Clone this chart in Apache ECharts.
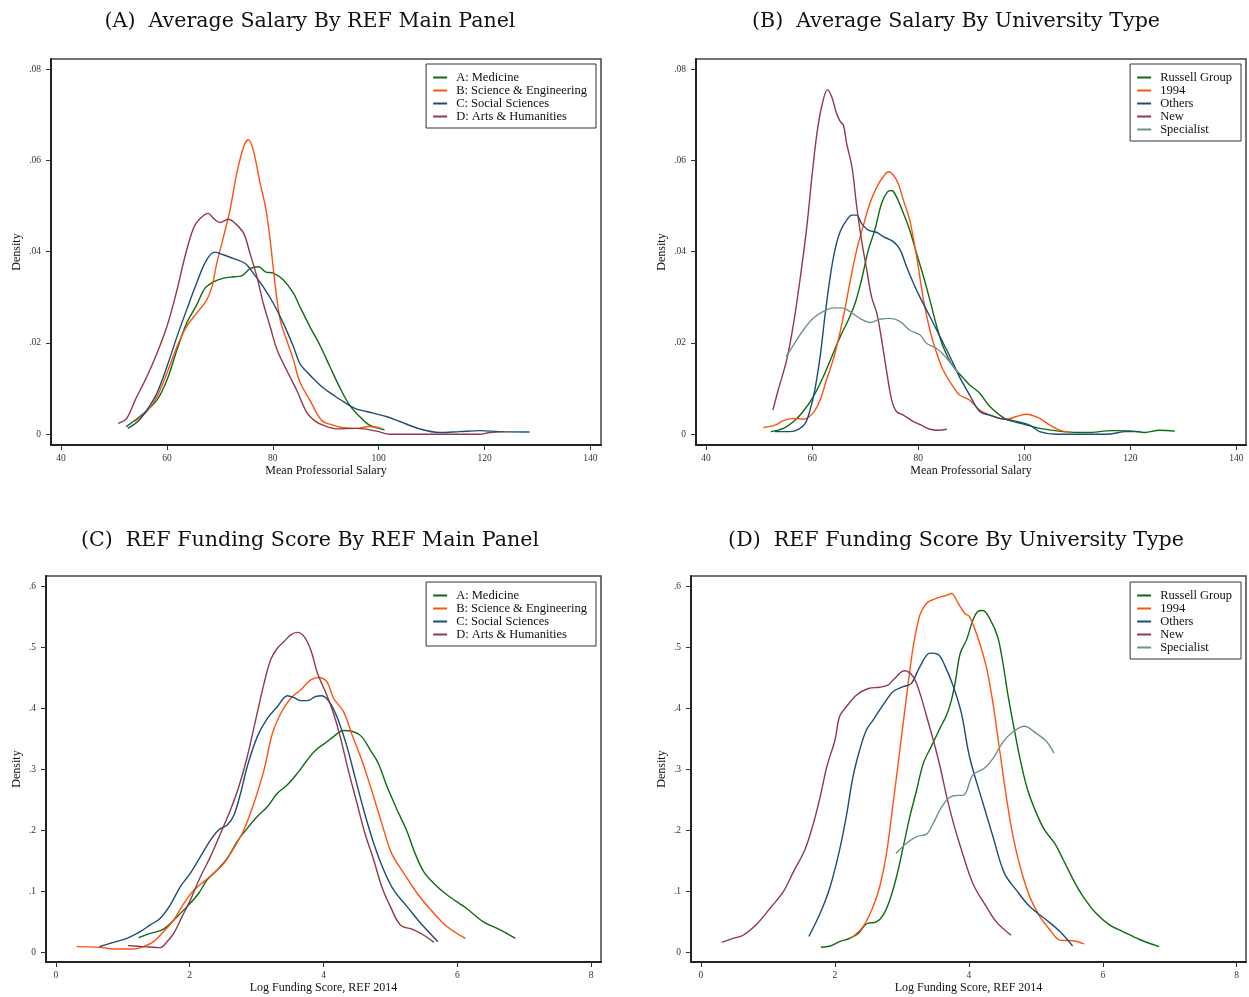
<!DOCTYPE html>
<html><head><meta charset="utf-8">
<script src="https://cdn.jsdelivr.net/npm/echarts@6/dist/echarts.min.js"></script>
<style>html,body{margin:0;padding:0;background:#fff}#c{width:1249px;height:997px}</style>
</head><body><div id="c"></div>
<script>
// ---------- Titles / labels ----------
const panelTitles = ['(A)  Average Salary By REF Main Panel', '(B)  Average Salary By University Type',
  '(C)  REF Funding Score By REF Main Panel', '(D)  REF Funding Score By University Type'];
const panelNames = ['A: Medicine', 'B: Science & Engineering', 'C: Social Sciences', 'D: Arts & Humanities'];
const uniTypes = ['Russell Group', '1994', 'Others', 'New', 'Specialist'];
const salaryTicks = [40, 60, 80, 100, 120, 140];
const salaryDensTicks = [0, 0.02, 0.04, 0.06, 0.08];
const fundTicks = [0, 2, 4, 6, 8];
const fundDensTicks = [0, 0.1, 0.2, 0.3, 0.4, 0.5, 0.6];

// ---------- (A) Salary by REF main panel : [salary, density] ----------
const A_med = [[52.3,.0017],[55,.004],[58.1,.0075],[60,.0119],[61.9,.0185],[63.7,.0243],[65.6,.0283],[67.2,.032],[68.8,.0334],[70.7,.0342],[72.6,.0345],[74.1,.0347],[75.7,.0363],[77.3,.0367],[78.6,.0356],[80.1,.0353],[82,.0338],[83.9,.0309],[85.1,.028],[87,.0236],[88.9,.0195],[90.8,.0148],[92.6,.0104],[94.5,.0064],[96.4,.0039],[98.3,.002],[101.1,.001]];
const A_sci = [[53.9,.0028],[56.2,.005],[58.1,.0082],[60,.0134],[61.9,.0192],[63.7,.0236],[65.6,.0265],[67.5,.0294],[68.5,.0323],[69.4,.0374],[70.7,.0433],[71.9,.0491],[73.2,.0572],[74.5,.063],[75.4,.0645],[76.3,.0623],[77.6,.055],[78.6,.0499],[79.5,.0426],[80.4,.0331],[81.4,.025],[82.6,.0207],[83.9,.0163],[85.1,.0115],[87,.0075],[89.2,.0031],[91.4,.002],[93,.0015],[95.8,.0013],[98.3,.0017],[100.5,.0013]];
const A_soc = [[52.6,.0013],[54.5,.0028],[56.2,.0053],[58.1,.009],[60,.0148],[61.9,.0214],[63.7,.0272],[65.6,.0331],[67.5,.0382],[69.1,.0399],[70.7,.0393],[72.6,.0385],[74.8,.0374],[76.3,.0353],[78.2,.0323],[80.1,.0287],[82,.0243],[83.9,.0192],[85.1,.0155],[86.4,.0137],[88.9,.0108],[91.4,.0086],[93.3,.0072],[95.5,.0057],[97.7,.005],[101.4,.0039],[104,.0028],[107.7,.0012],[111.5,.0004],[115.3,.0006],[119.1,.0008],[122.8,.0006],[128.5,.0005]];
const A_arts = [[50.8,.0024],[52.4,.0035],[54,.0075],[56.2,.0126],[58.1,.0177],[60,.0236],[61.9,.0316],[63.4,.0389],[65,.0451],[66.3,.0473],[67.8,.0484],[68.8,.0473],[70,.0464],[71.6,.0471],[72.9,.0462],[74.5,.044],[75.7,.0396],[77,.0345],[78.2,.0287],[79.5,.0236],[80.8,.0185],[82.6,.0141],[84.5,.0097],[86.4,.0048],[88,.0029],[89.5,.002],[92,.0012],[95.8,.0013],[99.6,.0007],[102.1,0],[119.1,0],[121,.0004],[123.8,.0006]];

// ---------- (B) Salary by university type ----------
const B_russell = [[52.2,.0006],[54.6,.0013],[56.5,.0028],[58.3,.005],[60.2,.0082],[62.1,.0126],[63.7,.017],[65.3,.0214],[66.8,.025],[68.1,.0287],[69.3,.0338],[70.6,.0404],[71.8,.0447],[73.1,.0506],[74.2,.0531],[75,.0534],[75.9,.052],[77.2,.0484],[78.4,.0447],[79.7,.0396],[81,.0345],[82.2,.0294],[83.5,.0236],[84.7,.0192],[86.6,.0148],[88.5,.0123],[89.7,.0108],[91.6,.009],[93.5,.0061],[96.6,.0033],[99.7,.0023],[102.9,.0013],[107.3,.0006],[111.7,.0004],[116.7,.0008],[120.5,.0007],[122.7,.0004],[125.5,.0009],[128.4,.0007]];
const B_1994 = [[50.8,.0015],[53,.002],[54.6,.003],[56.5,.0035],[58.3,.0033],[60.2,.0047],[61.5,.0075],[62.7,.0119],[64.3,.0177],[65.9,.0258],[67.1,.0331],[68.4,.0404],[69.6,.0455],[70.9,.0506],[72.2,.0542],[73.4,.0564],[74.4,.0575],[75.3,.0568],[76.2,.055],[77.2,.0513],[78.4,.0469],[79.7,.0389],[81,.0294],[82.2,.0228],[83.5,.0177],[84.7,.0141],[86.6,.0104],[87.8,.0086],[89.7,.0075],[91.6,.0053],[93.5,.0042],[96.6,.0033],[98.5,.0039],[100.4,.0044],[102.9,.0035],[104.8,.002],[106.7,.0009],[108.6,.0004]];
const B_others = [[53,.0006],[55.8,.0006],[57.4,.0011],[58.7,.0024],[59.6,.0053],[60.5,.0097],[61.5,.017],[62.4,.0258],[63.4,.0345],[64.3,.0404],[65.3,.0444],[66.5,.0469],[67.5,.048],[68.4,.048],[69.3,.0462],[70.6,.0447],[72.2,.0442],[73.4,.0433],[75.3,.0422],[76.6,.0404],[77.8,.0367],[79.1,.0331],[80.3,.0301],[82.2,.0258],[84.1,.0214],[86,.017],[87.9,.0123],[89.7,.0086],[91.6,.005],[93.5,.0042],[95.3,.0035],[97.9,.003],[101,.002],[102.9,.0006],[106,0],[115.5,0],[119.2,.0006],[121.8,.0006]];
const B_new = [[52.6,.0053],[53.6,.0097],[55.2,.0163],[56.5,.0243],[57.7,.0338],[59,.0455],[59.9,.0558],[60.9,.0659],[61.8,.0718],[62.9,.0755],[63.7,.0739],[64.6,.0703],[65.3,.0685],[65.9,.0677],[66.5,.0637],[67.5,.0586],[68.4,.0499],[69.3,.0426],[70.3,.036],[71.2,.0301],[72.2,.0265],[73.1,.0207],[74,.0141],[75,.0075],[75.9,.005],[77.2,.0042],[79.1,.0028],[80.6,.002],[82.2,.0011],[83.8,.0009],[85.4,.0011]];
const B_spec = [[55.1,.017],[56.5,.0196],[58.3,.0228],[60.2,.0254],[62.1,.0269],[64,.0277],[65.6,.0277],[67.1,.0269],[69,.0254],[70.9,.0245],[72.8,.0252],[74.7,.0254],[76.6,.0247],[78.4,.0228],[80.3,.0218],[81.6,.0199],[83.5,.0188],[85.4,.0166],[87.5,.0135]];

// ---------- (C) Log funding score by REF main panel : [log score, density] ----------
const C_med = [[1.235,.024],[1.41,.031],[1.61,.038],[1.81,.0585],[1.96,.075],[2.135,.097],[2.26,.119],[2.41,.135],[2.56,.154],[2.71,.182],[2.86,.2035],[3.01,.223],[3.16,.239],[3.31,.261],[3.46,.275],[3.61,.294],[3.76,.316],[3.885,.332],[4.02,.343],[4.15,.354],[4.3,.364],[4.45,.362],[4.57,.354],[4.7,.332],[4.82,.31],[4.95,.272],[5.1,.234],[5.25,.198],[5.37,.162],[5.5,.132],[5.65,.113],[5.85,.094],[6.14,.072],[6.39,.05],[6.64,.037],[6.87,.023]];
const C_sci = [[.31,.0093],[.66,.0082],[.86,.0055],[1.16,.0055],[1.31,.0093],[1.46,.0175],[1.61,.034],[1.76,.053],[1.91,.08],[2.06,.102],[2.21,.116],[2.36,.13],[2.51,.146],[2.66,.171],[2.81,.201],[2.96,.245],[3.11,.299],[3.235,.359],[3.36,.392],[3.51,.417],[3.66,.431],[3.81,.447],[3.925,.451],[4.05,.444],[4.15,.417],[4.3,.395],[4.42,.359],[4.57,.316],[4.72,.266],[4.87,.212],[5.02,.162],[5.2,.13],[5.4,.097],[5.65,.064],[5.85,.042],[6.12,.023]];
const C_soc = [[.65,.0093],[.81,.0148],[1.06,.023],[1.26,.034],[1.41,.045],[1.56,.056],[1.71,.078],[1.86,.108],[2.01,.13],[2.16,.157],[2.31,.184],[2.435,.201],[2.56,.209],[2.66,.225],[2.76,.261],[2.86,.305],[3.01,.354],[3.16,.384],[3.31,.403],[3.46,.421],[3.56,.418],[3.66,.413],[3.76,.413],[3.885,.42],[3.975,.421],[4.1,.409],[4.22,.381],[4.35,.338],[4.47,.288],[4.6,.234],[4.75,.179],[4.9,.135],[5.05,.102],[5.25,.075],[5.45,.048],[5.71,.0175]];
const C_arts = [[1.075,.011],[1.31,.0093],[1.56,.0077],[1.66,.0175],[1.76,.031],[1.885,.0585],[2.01,.086],[2.16,.124],[2.31,.157],[2.46,.195],[2.61,.234],[2.735,.272],[2.86,.321],[2.985,.381],[3.11,.441],[3.21,.48],[3.31,.499],[3.41,.51],[3.51,.521],[3.61,.525],[3.71,.518],[3.81,.496],[3.91,.458],[4.05,.422],[4.15,.392],[4.25,.354],[4.37,.299],[4.5,.245],[4.62,.195],[4.75,.152],[4.87,.108],[5.0,.075],[5.15,.045],[5.35,.037],[5.5,.028],[5.65,.0164]];

// ---------- (D) Log funding score by university type ----------
const D_russell = [[1.79,.0082],[1.93,.0104],[2.07,.0175],[2.22,.023],[2.35,.031],[2.47,.0465],[2.62,.05],[2.72,.061],[2.82,.086],[2.92,.124],[3.02,.173],[3.12,.223],[3.22,.266],[3.32,.31],[3.44,.338],[3.57,.368],[3.67,.39],[3.74,.414],[3.8,.445],[3.87,.49],[3.97,.514],[4.06,.545],[4.13,.559],[4.21,.561],[4.31,.548],[4.43,.518],[4.51,.474],[4.58,.425],[4.68,.365],[4.78,.31],[4.88,.266],[5.01,.228],[5.13,.201],[5.28,.179],[5.41,.152],[5.56,.119],[5.71,.091],[5.9,.064],[6.1,.045],[6.3,.034],[6.55,.021],[6.84,.0093]];
const D_1994 = [[2.25,.024],[2.42,.042],[2.57,.075],[2.67,.108],[2.77,.162],[2.87,.245],[2.97,.332],[3.07,.42],[3.17,.502],[3.27,.554],[3.37,.573],[3.47,.579],[3.57,.583],[3.67,.586],[3.74,.589],[3.84,.573],[3.94,.556],[4.01,.551],[4.13,.518],[4.26,.469],[4.36,.409],[4.46,.332],[4.56,.255],[4.66,.19],[4.78,.135],[4.91,.091],[5.06,.0585],[5.21,.037],[5.36,.02],[5.56,.019],[5.72,.0137]];
const D_others = [[1.61,.026],[1.78,.064],[1.93,.108],[2.07,.168],[2.17,.223],[2.27,.288],[2.37,.332],[2.47,.365],[2.57,.381],[2.72,.406],[2.87,.428],[3.02,.436],[3.14,.441],[3.27,.469],[3.42,.491],[3.54,.489],[3.64,.471],[3.77,.436],[3.89,.392],[4.01,.321],[4.21,.245],[4.36,.19],[4.53,.13],[4.71,.102],[4.91,.075],[5.16,.053],[5.36,.034],[5.55,.0104]];
const D_new = [[.31,.0164],[.48,.023],[.63,.028],[.83,.046],[1.03,.072],[1.23,.0996],[1.38,.132],[1.55,.168],[1.68,.212],[1.78,.255],[1.88,.305],[2.0,.348],[2.07,.387],[2.17,.403],[2.32,.422],[2.5,.433],[2.67,.435],[2.8,.439],[2.87,.447],[3.04,.462],[3.17,.452],[3.27,.425],[3.37,.387],[3.47,.348],[3.57,.305],[3.67,.255],[3.77,.212],[3.89,.168],[4.06,.113],[4.26,.075],[4.41,.05],[4.63,.028]];
const D_spec = [[2.91,.162],[3.07,.179],[3.22,.19],[3.37,.194],[3.47,.212],[3.57,.234],[3.67,.25],[3.77,.257],[3.92,.258],[4.06,.291],[4.23,.302],[4.36,.318],[4.51,.345],[4.66,.362],[4.83,.371],[5.01,.359],[5.16,.346],[5.27,.327]];

// ---------- Styling ----------
const SERIF = '"Liberation Serif", "Times New Roman", serif';
const TITLE_FONT = '"DejaVu Serif", "Liberation Serif", serif';
const COLORS = ['#0f6b12', '#ff5210', '#1c4c78', '#8e3a48', '#6f9389'];

const layout = [
  {left: 51, top: 59, width: 550, height: 386, xMin: 38.1, xMax: 142.0, yMin: -0.00234, yMax: 0.0822, tx: 305, ty: 6, nGap: 28},
  {left: 696, top: 59, width: 550, height: 386, xMin: 38.1, xMax: 141.8, yMin: -0.00234, yMax: 0.0822, tx: 951, ty: 6, nGap: 28},
  {left: 46, top: 576, width: 555, height: 386, xMin: -0.149, xMax: 8.149, yMin: -0.0159, yMax: 0.6176, tx: 305, ty: 525, nGap: 23},
  {left: 691, top: 576, width: 555, height: 386, xMin: -0.149, xMax: 8.139, yMin: -0.0159, yMax: 0.6176, tx: 951, ty: 525, nGap: 23}
];
const xNames = ['Mean Professorial Salary', 'Mean Professorial Salary', 'Log Funding Score, REF 2014', 'Log Funding Score, REF 2014'];
const xTickSets = [salaryTicks, salaryTicks, fundTicks, fundTicks];
const yTickSets = [salaryDensTicks, salaryDensTicks, fundDensTicks, fundDensTicks];
const densFmt = v => (v === 0 ? '0' : String(+v.toFixed(2)).replace(/^0/, ''));

const panelSeries = [
  {names: panelNames, data: [A_med, A_sci, A_soc, A_arts]},
  {names: uniTypes, data: [B_russell, B_1994, B_others, B_new, B_spec]},
  {names: panelNames, data: [C_med, C_sci, C_soc, C_arts]},
  {names: uniTypes, data: [D_russell, D_1994, D_others, D_new, D_spec]}
];

const grid = [], xAxis = [], yAxis = [], series = [], title = [], legend = [];
layout.forEach((L, i) => {
  grid.push({left: L.left, top: L.top, width: L.width, height: L.height, show: true,
    borderColor: '#444', borderWidth: 1.5, backgroundColor: '#fff'});
  xAxis.push({type: 'value', gridIndex: i, min: L.xMin, max: L.xMax,
    name: xNames[i], nameLocation: 'middle', nameGap: 20,
    nameTextStyle: {fontFamily: SERIF, fontSize: 12, color: '#111'},
    axisLine: {show: true, onZero: false, lineStyle: {color: '#222', width: 2}},
    axisTick: {show: true, length: 5, customValues: xTickSets[i], lineStyle: {color: '#333', width: 1}},
    axisLabel: {customValues: xTickSets[i], fontFamily: SERIF, fontSize: 9.5, color: '#333', margin: 8},
    splitLine: {show: false}});
  yAxis.push({type: 'value', gridIndex: i, min: L.yMin, max: L.yMax,
    name: 'Density', nameLocation: 'middle', nameGap: L.nGap, nameRotate: 90,
    nameTextStyle: {fontFamily: SERIF, fontSize: 12, color: '#111'},
    axisLine: {show: true, onZero: false, lineStyle: {color: '#222', width: 2}},
    axisTick: {show: true, length: 5, customValues: yTickSets[i], lineStyle: {color: '#333', width: 1}},
    axisLabel: {customValues: yTickSets[i], formatter: densFmt, fontFamily: SERIF, fontSize: 9.5, color: '#333', margin: 10},
    splitLine: {show: false}});
  title.push({text: panelTitles[i], left: L.tx, top: L.ty, textAlign: 'center',
    textStyle: {fontFamily: TITLE_FONT, fontSize: 20.6, fontWeight: 'normal', color: '#111'}});
  const P = panelSeries[i];
  legend.push({data: P.names, orient: 'vertical', right: 1249 - (i % 2 === 0 ? 596 : 1241),
    top: i < 2 ? 64 : 582, borderColor: '#333', borderWidth: 1, padding: [7, 9, 5, 7], itemGap: 0,
    itemWidth: 14, itemHeight: 2, icon: 'rect', backgroundColor: '#fff',
    textStyle: {fontFamily: SERIF, fontSize: 12.5, lineHeight: 12, color: '#111', padding: [0, 0, 0, 4]}});
  P.data.forEach((d, k) => {
    series.push({type: 'line', name: P.names[k], xAxisIndex: i, yAxisIndex: i, data: d,
      showSymbol: false, smooth: 0.35, clip: true,
      lineStyle: {color: COLORS[k], width: 1.4}, itemStyle: {color: COLORS[k]}});
  });
});

const chart = echarts.init(document.getElementById('c'), null, {renderer: 'canvas'});
chart.setOption({backgroundColor: '#fff', animation: false, title, legend, grid, xAxis, yAxis, series});
</script></body></html>
